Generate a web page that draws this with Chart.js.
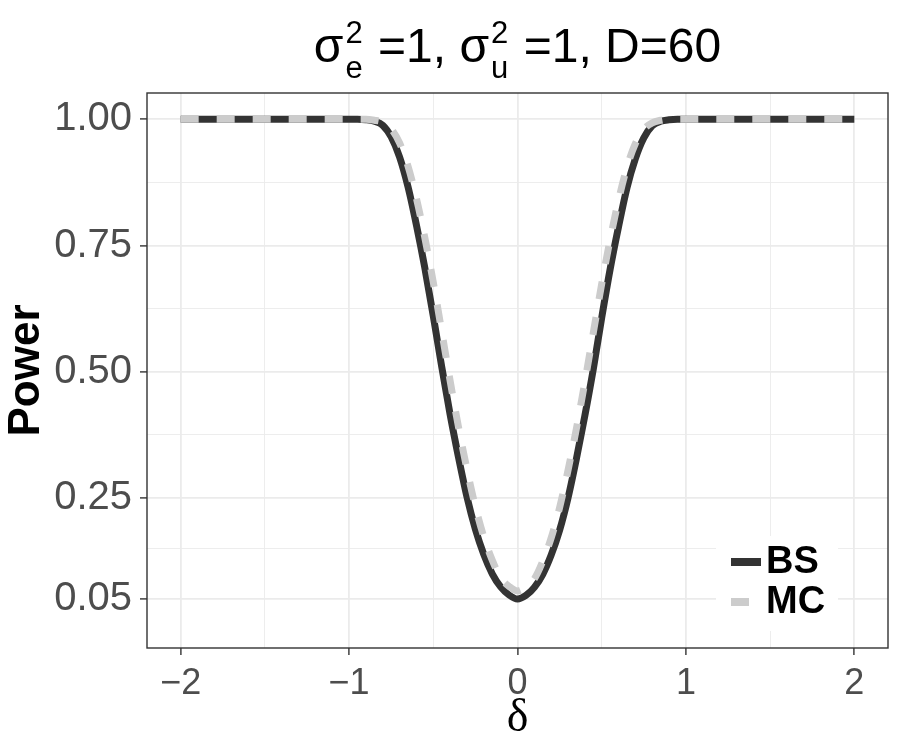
<!DOCTYPE html>
<html>
<head>
<meta charset="utf-8">
<script src="https://cdn.jsdelivr.net/npm/chart.js@4.4.1/dist/chart.umd.min.js"></script>
<style>
  body { margin: 0; background: #fff; }
  canvas { display: block; }
</style>
</head>
<body>
<canvas id="powerChart" width="900" height="750"></canvas>
<script>
// delta values and power
const delta = [-2, -1.5, -1, -0.95, -0.9, -0.85, -0.8, -0.75, -0.7, -0.65, -0.6, -0.55, -0.5, -0.45, -0.4, -0.35, -0.3, -0.25, -0.2, -0.15, -0.1, -0.05,
  0, 0.05, 0.1, 0.15, 0.2, 0.25, 0.3, 0.35, 0.4, 0.45, 0.5, 0.55, 0.6, 0.65, 0.7, 0.75, 0.8, 0.85, 0.9, 0.95, 1, 1.5, 2];
const bsPower = [1, 1, 1, 1, 0.999, 0.996, 0.988, 0.965, 0.925, 0.866, 0.79, 0.705, 0.61, 0.51, 0.415, 0.33, 0.252, 0.188, 0.138, 0.1, 0.074, 0.058,
  0.05, 0.057, 0.073, 0.099, 0.137, 0.186, 0.25, 0.328, 0.413, 0.505, 0.607, 0.703, 0.787, 0.864, 0.922, 0.963, 0.987, 0.996, 0.999, 1, 1, 1, 1];
const mcPower = [1, 1, 1, 1, 1, 0.998, 0.994, 0.981, 0.953, 0.907, 0.843, 0.765, 0.677, 0.58, 0.482, 0.39, 0.307, 0.233, 0.173, 0.127, 0.092, 0.075,
  0.066, 0.074, 0.09, 0.125, 0.171, 0.231, 0.305, 0.388, 0.48, 0.577, 0.674, 0.762, 0.84, 0.905, 0.952, 0.98, 0.993, 0.998, 1, 1, 1, 1, 1];
const seriesNames = ['BS', 'MC'];

const xTicks = [-2, -1.5, -1, -0.5, 0, 0.5, 1, 1.5, 2];
const yTicks = [0.05, 0.15, 0.25, 0.375, 0.5, 0.625, 0.75, 0.875, 1.0];
const yMajor = [0.05, 0.25, 0.5, 0.75, 1.0];

const SANS = '"Liberation Sans", Arial, sans-serif';

function isMajorX(v) { return Number.isInteger(v); }
function isMajorY(v) { return yMajor.some(m => Math.abs(m - v) < 1e-9); }

// title with stacked super/subscripts, centred over the panel
const titlePlugin = {
  id: 'mathTitle',
  afterDraw(chart) {
    const ctx = chart.ctx;
    const parts = [
      { t: 'σ' }, { sup: '2', sub: 'e' }, { t: ' =1, σ' }, { sup: '2', sub: 'u' }, { t: ' =1, D=60' }
    ];
    const big = '48px ' + SANS, small = '31px ' + SANS;
    let w = 0;
    parts.forEach(p => {
      if (p.t) { ctx.font = big; p.w = ctx.measureText(p.t).width; }
      else { ctx.font = small; p.w = Math.max(ctx.measureText(p.sup).width, ctx.measureText(p.sub).width) + 4; }
      w += p.w;
    });
    const area = chart.chartArea;
    let x = (area.left + area.right) / 2 - w / 2;
    const base = 62;
    ctx.save();
    ctx.fillStyle = '#000';
    ctx.textBaseline = 'alphabetic';
    ctx.textAlign = 'left';
    parts.forEach(p => {
      if (p.t) { ctx.font = big; ctx.fillText(p.t, x, base); }
      else {
        ctx.font = small;
        ctx.fillText(p.sup, x + 2, base - 19);
        ctx.fillText(p.sub, x + 2, base + 16);
      }
      x += p.w;
    });
    ctx.restore();
  }
};

// panel border and inside legend
const panelPlugin = {
  id: 'panel',
  afterDraw(chart) {
    const ctx = chart.ctx;
    const a = chart.chartArea;
    ctx.save();
    ctx.fillStyle = '#fff';
    ctx.fillRect(716, 536, 122, 95);
    chart.data.datasets.forEach((ds, i) => {
      const y = 562 + i * 40;
      ctx.beginPath();
      ctx.strokeStyle = ds.borderColor;
      ctx.lineWidth = 8;
      ctx.lineCap = 'butt';
      ctx.setLineDash(ds.borderDash || []);
      ctx.moveTo(731, y);
      ctx.lineTo(761, y);
      ctx.stroke();
      ctx.setLineDash([]);
      ctx.fillStyle = '#000';
      ctx.font = 'bold 38px ' + SANS;
      ctx.textBaseline = 'middle';
      ctx.fillText(ds.label, 766, y + 1);
    });
    ctx.strokeStyle = '#333';
    ctx.lineWidth = 1.4;
    ctx.strokeRect(a.left, a.top, a.right - a.left, a.bottom - a.top);
    ctx.restore();
  }
};

new Chart(document.getElementById('powerChart'), {
  type: 'line',
  data: {
    datasets: [{
      label: seriesNames[0],
      data: delta.map((d, i) => ({ x: d, y: bsPower[i] })),
      borderColor: '#333333',
      borderWidth: 7,
      pointRadius: 0,
      cubicInterpolationMode: 'monotone',
      borderCapStyle: 'butt',
      order: 2
    }, {
      label: seriesNames[1],
      data: delta.map((d, i) => ({ x: d, y: mcPower[i] })),
      borderColor: '#cccccc',
      borderWidth: 7,
      borderDash: [18, 18],
      pointRadius: 0,
      cubicInterpolationMode: 'monotone',
      borderCapStyle: 'butt',
      order: 1
    }]
  },
  options: {
    responsive: false,
    animation: false,
    layout: { padding: { top: 93, right: 12, left: 0, bottom: 0 } },
    plugins: {
      legend: { display: false },
      tooltip: { enabled: false },
      title: { display: false }
    },
    scales: {
      x: {
        type: 'linear',
        min: -2.2,
        max: 2.2,
        afterBuildTicks: s => { s.ticks = xTicks.map(v => ({ value: v })); },
        afterFit: s => { s.height = 102; },
        border: { display: false },
        grid: {
          color: '#ebebeb',
          lineWidth: c => isMajorX(c.tick.value) ? 1.8 : 0.9,
          tickColor: c => isMajorX(c.tick.value) ? '#333' : 'rgba(0,0,0,0)',
          tickLength: 7,
          tickWidth: 1.4
        },
        ticks: {
          autoSkip: false,
          maxRotation: 0,
          padding: 7,
          color: '#4d4d4d',
          font: { family: SANS, size: 36 },
          callback: v => isMajorX(v) ? (v < 0 ? '\u2212' + Math.abs(v) : String(v)) : ''
        },
        title: {
          display: true,
          text: 'δ',
          color: '#000',
          font: { family: '"Liberation Serif", "DejaVu Serif", serif', size: 46 },
          padding: { top: 0, bottom: 3 }
        }
      },
      y: {
        min: -0.047,
        max: 1.052,
        afterBuildTicks: s => { s.ticks = yTicks.map(v => ({ value: v })); },
        afterFit: s => { s.width = 147; },
        border: { display: false },
        grid: {
          color: '#ebebeb',
          lineWidth: c => isMajorY(c.tick.value) ? 1.8 : 0.9,
          tickColor: c => isMajorY(c.tick.value) ? '#333' : 'rgba(0,0,0,0)',
          tickLength: 7,
          tickWidth: 1.4
        },
        ticks: {
          autoSkip: false,
          padding: 8,
          color: '#4d4d4d',
          font: { family: SANS, size: 40 },
          callback: v => isMajorY(v) ? v.toFixed(2) : ''
        },
        title: {
          display: true,
          text: 'Power',
          color: '#000',
          font: { family: SANS, size: 44, weight: 'bold' },
          padding: { top: 0, bottom: 0 }
        }
      }
    }
  },
  plugins: [titlePlugin, panelPlugin]
});
</script>
</body>
</html>
